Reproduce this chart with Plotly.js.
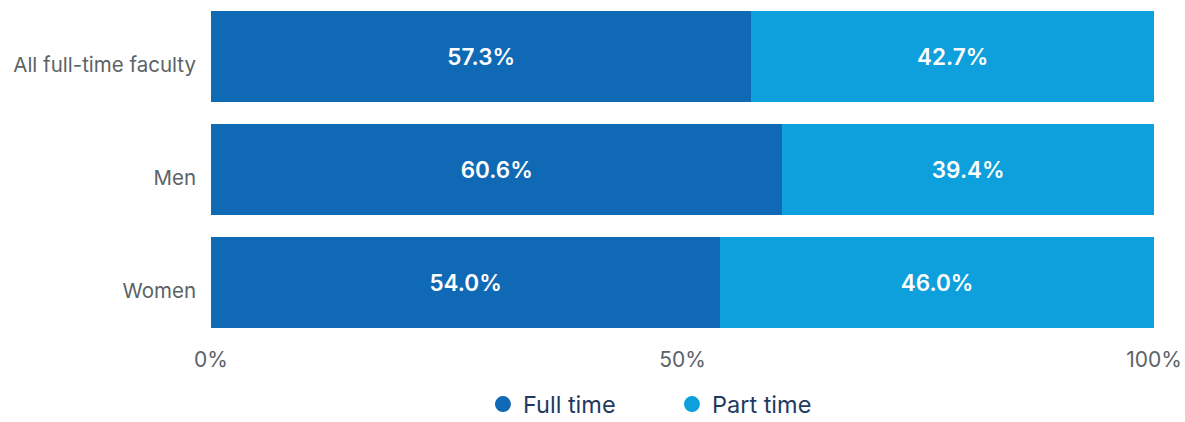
<!DOCTYPE html>
<html><head><meta charset="utf-8">
<script src="https://cdn.plot.ly/plotly-3.0.1.min.js"></script>
<style>html,body{margin:0;padding:0;background:#fff}</style>
</head><body>
<div id="chart" style="width:1185px;height:422px"></div>
<script>
const categories = ["All full-time faculty", "Men", "Women"];
const fullTime = [57.3, 60.6, 54.0];
const partTime = [42.7, 39.4, 46.0];
const seriesNames = ["Full time", "Part time"];
const colors = ["#0f69b4", "#0ea0dc"];
const tickVals = [0, 50, 100];
const tickText = ["0%", "50%", "100%"];

const font = "Inter, 'Open Sans', Roboto, sans-serif";
const mk = (vals, name, color) => ({
  type: "bar", orientation: "h", y: categories, x: vals, name: name,
  marker: {color: color}, showlegend: false,
  text: vals.map(v => v.toFixed(1) + "%"), textposition: "inside", insidetextanchor: "middle",
  textfont: {color: "#ffffff", size: 22.5, family: font, weight: 600},
  hoverinfo: "none"
});
const legendItem = (name, color) => ({
  type: "scatter", mode: "markers", x: [null], y: [null], name: name,
  marker: {color: color, size: 20, symbol: "circle"}, showlegend: true, hoverinfo: "none"
});
const data = [
  mk(fullTime, seriesNames[0], colors[0]), mk(partTime, seriesNames[1], colors[1]),
  legendItem(seriesNames[0], colors[0]), legendItem(seriesNames[1], colors[1])
];
const layout = {
  barmode: "stack", bargap: 0.195,
  width: 1185, height: 422,
  margin: {l: 211, r: 31, t: 0, b: 83, autoexpand: false},
  paper_bgcolor: "#fff", plot_bgcolor: "#fff",
  xaxis: {range: [0, 100], tickvals: tickVals, ticktext: tickText, showgrid: false, zeroline: false,
    showline: false, ticks: "", ticklabelstandoff: 6, tickfont: {size: 21, color: "#5b6367", family: font}, fixedrange: true},
  yaxis: {autorange: "reversed", showgrid: false, zeroline: false, showline: false, ticks: "",
    ticklabelstandoff: 14, ticklabelshift: -8, tickfont: {size: 20.5, color: "#5b6367", family: font}, fixedrange: true},
  showlegend: true,
  legend: {orientation: "h", x: 0.2884, xanchor: "left", yref: "container", y: 0.094, yanchor: "top",
    entrywidth: 144, entrywidthmode: "pixels",
    font: {size: 23.5, color: "#1f3a5f", family: font}, itemwidth: 30, traceorder: "normal"},
  uniformtext: {mode: false}
};
Plotly.newPlot("chart", data, layout, {displayModeBar: false, staticPlot: true});
</script>
</body></html>
